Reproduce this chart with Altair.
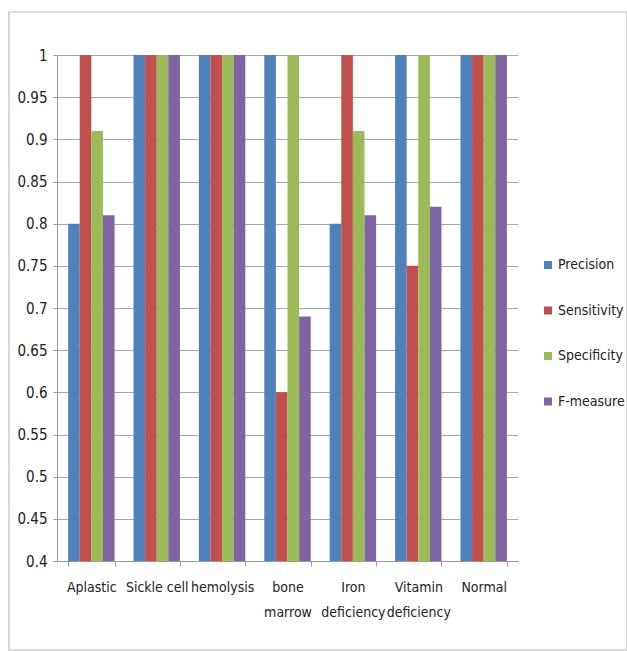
import altair as alt
import pandas as pd

categories = ["Aplastic", "Sickle cell", "hemolysis", "bone marrow",
              "Iron deficiency", "Vitamin deficiency", "Normal"]
measures = ["Precision", "Sensitivity", "Specificity", "F-measure"]
precision = [0.80, 1.00, 1.00, 1.00, 0.80, 1.00, 1.00]
sensitivity = [1.00, 1.00, 1.00, 0.60, 1.00, 0.75, 1.00]
specificity = [0.91, 1.00, 1.00, 1.00, 0.91, 1.00, 1.00]
f_measure = [0.81, 1.00, 1.00, 0.69, 0.81, 0.82, 1.00]
y_ticks = [0.4, 0.45, 0.5, 0.55, 0.6, 0.65, 0.7, 0.75, 0.8, 0.85, 0.9, 0.95, 1.0]
colors = ["#4F81BD", "#C0504D", "#9BBB59", "#8064A2"]

series = [precision, sensitivity, specificity, f_measure]
rows = []
for m, vals in zip(measures, series):
    for c, v in zip(categories, vals):
        rows.append({"category": c, "measure": m, "value": v})
df = pd.DataFrame(rows)

FONT = "DejaVu Sans Condensed, Liberation Sans Narrow, Roboto, sans-serif"
PAD_L, PAD_T, W, H = 57, 55, 461, 506

bars = alt.Chart(df).mark_bar(clip=True).encode(
    x=alt.X("category:N", sort=categories, title=None,
            scale=alt.Scale(paddingInner=0.29, paddingOuter=0.17),
            axis=alt.Axis(tickBand="extent", labelAngle=0, labelFont=FONT,
                          labelFontSize=14, labelColor="#222",
                          labelPadding=14, labelLineHeight=25,
                          labelExpr="indexof(['bone marrow','Iron deficiency','Vitamin deficiency'], datum.label) >= 0 ? split(datum.label, ' ') : datum.label",
                          domainColor="#999", tickColor="#999", tickSize=5,
                          grid=False)),
    xOffset=alt.XOffset("measure:N", sort=measures,
                        scale=alt.Scale(paddingInner=0, paddingOuter=0)),
    y=alt.Y("value:Q", title=None,
            scale=alt.Scale(domain=[0.4, 1.0], zero=False, nice=False),
            axis=alt.Axis(values=y_ticks, format=".2~f", labelFont=FONT,
                          labelFontSize=15, labelColor="#222",
                          labelPadding=6, tickSize=4, tickColor="#999",
                          domainColor="#999", gridColor="#A6A6A6",
                          gridWidth=1)),
    color=alt.Color("measure:N", sort=measures,
                    scale=alt.Scale(domain=measures, range=colors),
                    legend=alt.Legend(title=None, orient="none",
                                      legendX=484, legendY=203,
                                      symbolType="square", symbolSize=64,
                                      symbolStrokeWidth=0,
                                      labelFont=FONT, labelFontSize=14,
                                      labelColor="#222", rowPadding=31.5,
                                      labelOffset=3, padding=0)),
)

border = alt.Chart(alt.Data(values=[{}])).mark_rect(
    fill=None, stroke="#BBBBBB", strokeWidth=1.2, clip=False
).encode(
    x=alt.value(9 - PAD_L), x2=alt.value(627 - PAD_L),
    y=alt.value(12 - PAD_T), y2=alt.value(650 - PAD_T),
)

chart = alt.layer(border, bars).properties(
    width=W, height=H,
    padding={"left": PAD_L, "top": PAD_T, "right": 627 - PAD_L - W,
             "bottom": 651 - PAD_T - H},
    autosize=alt.AutoSizeParams(type="none"),
    background="white",
).configure_view(stroke=None)

chart.save("out.html", embed_options={"renderer": "svg", "actions": False})
